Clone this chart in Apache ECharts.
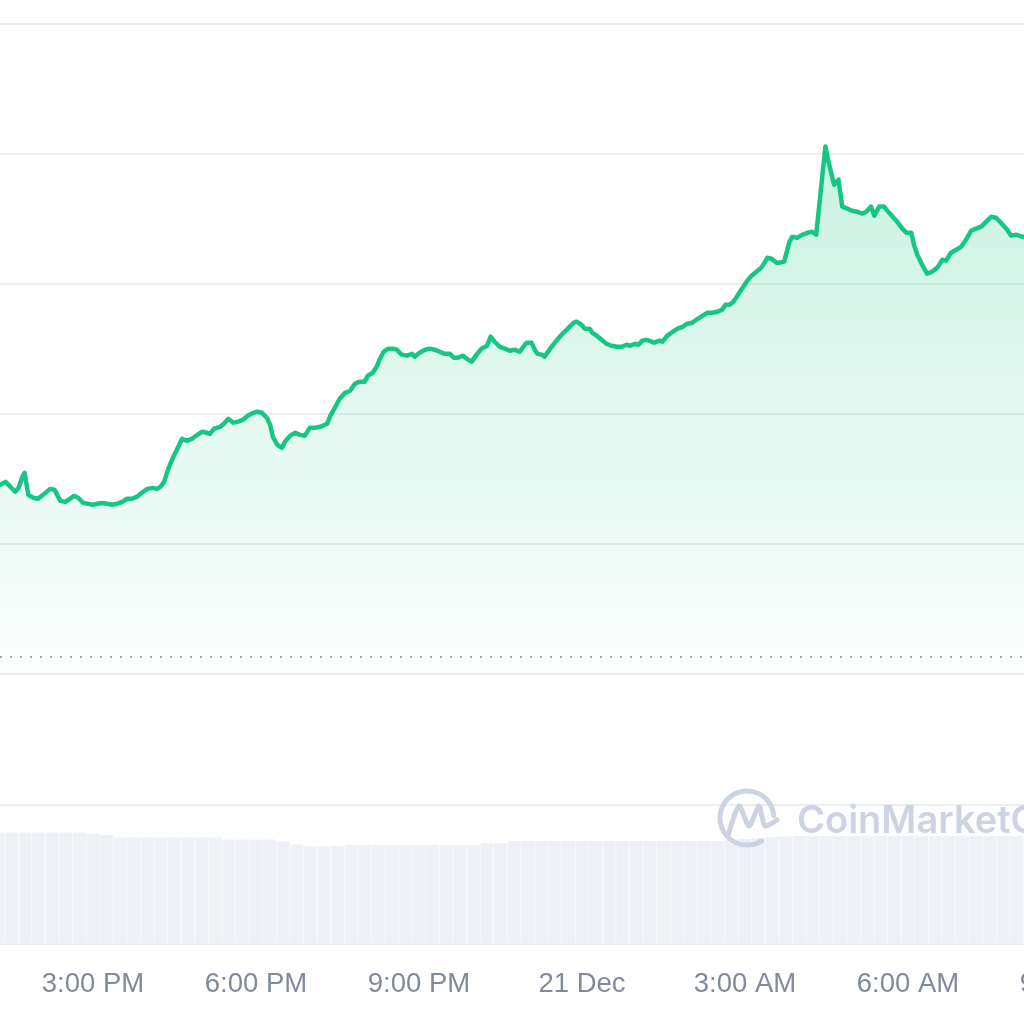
<!DOCTYPE html>
<html>
<head>
<meta charset="utf-8">
<title>Price chart</title>
<script src="https://cdn.jsdelivr.net/npm/echarts@6/dist/echarts.min.js"></script>
<style>
    html, body { margin: 0; padding: 0; background: #fff; }
    #chart { width: 1024px; height: 1024px; }
</style>
</head>
<body>
<div id="chart"></div>
<script>
// hours relative to 21 Dec 00:00
const times = [
    -10.80, -10.71, -10.61, -10.58, -10.52, -10.43, -10.37, -10.30, -10.26, -10.19,
    -10.10, -10.01, -9.92, -9.79, -9.71, -9.60, -9.51, -9.42, -9.35, -9.27,
    -9.18, -9.09, -9.00, -8.92, -8.83, -8.74, -8.65, -8.55, -8.46, -8.37,
    -8.28, -8.19, -8.10, -8.00, -7.91, -7.82, -7.76, -7.69, -7.62, -7.53,
    -7.43, -7.36, -7.27, -7.18, -7.08, -6.99, -6.90, -6.85, -6.77, -6.66,
    -6.59, -6.51, -6.42, -6.33, -6.24, -6.15, -6.05, -5.98, -5.89, -5.80,
    -5.74, -5.69, -5.61, -5.52, -5.47, -5.37, -5.28, -5.19, -5.10, -5.01,
    -4.92, -4.82, -4.69, -4.64, -4.55, -4.46, -4.36, -4.27, -4.18, -4.09,
    -4.00, -3.94, -3.85, -3.78, -3.72, -3.65, -3.57, -3.48, -3.41, -3.32,
    -3.22, -3.13, -3.08, -2.99, -2.89, -2.80, -2.71, -2.62, -2.53, -2.43,
    -2.36, -2.29, -2.19, -2.12, -2.03, -1.94, -1.85, -1.75, -1.68, -1.61,
    -1.51, -1.42, -1.33, -1.24, -1.15, -1.09, -1.02, -0.93, -0.87, -0.82,
    -0.74, -0.69, -0.60, -0.50, -0.41, -0.32, -0.23, -0.15, -0.10, -0.01,
    0.05, 0.14, 0.19, 0.27, 0.36, 0.45, 0.54, 0.64, 0.73, 0.82,
    0.89, 0.97, 1.04, 1.11, 1.19, 1.28, 1.33, 1.43, 1.48, 1.57,
    1.67, 1.76, 1.85, 1.94, 2.03, 2.13, 2.22, 2.31, 2.40, 2.49,
    2.58, 2.64, 2.71, 2.77, 2.84, 2.93, 3.03, 3.12, 3.21, 3.30,
    3.36, 3.41, 3.49, 3.58, 3.63, 3.72, 3.82, 3.87, 3.96, 4.06,
    4.15, 4.24, 4.31, 4.48, 4.55, 4.64, 4.72, 4.79, 4.88, 4.97,
    5.07, 5.16, 5.23, 5.32, 5.38, 5.47, 5.56, 5.65, 5.75, 5.80,
    5.88, 5.97, 6.06, 6.11, 6.17, 6.26, 6.35, 6.44, 6.54, 6.63,
    6.70, 6.79, 6.89, 6.98, 7.07, 7.16, 7.25, 7.35, 7.44, 7.53,
    7.62, 7.71, 7.81, 7.90, 7.99, 8.10, 8.32
];

const prices = [
    1.0718, 1.0726, 1.0737, 1.0741, 1.0718, 1.0699, 1.0714, 1.0757, 1.0772, 1.0687,
    1.0676, 1.0672, 1.0687, 1.0710, 1.0707, 1.0664, 1.0660, 1.0672, 1.0683, 1.0676,
    1.0656, 1.0653, 1.0649, 1.0653, 1.0656, 1.0653, 1.0649, 1.0653, 1.0660, 1.0672,
    1.0672, 1.0680, 1.0695, 1.0710, 1.0714, 1.0710, 1.0718, 1.0737, 1.0784, 1.0830,
    1.0872, 1.0903, 1.0895, 1.0903, 1.0918, 1.0930, 1.0926, 1.0922, 1.0942, 1.0949,
    1.0961, 1.0980, 1.0965, 1.0969, 1.0976, 1.0992, 1.1003, 1.1007, 1.1003, 1.0984,
    1.0957, 1.0911, 1.0880, 1.0868, 1.0891, 1.0915, 1.0926, 1.0918, 1.0915, 1.0945,
    1.0945, 1.0949, 1.0961, 1.0988, 1.1022, 1.1057, 1.1080, 1.1088, 1.1115, 1.1123,
    1.1123, 1.1146, 1.1157, 1.1180, 1.1211, 1.1238, 1.1250, 1.1250, 1.1246, 1.1227,
    1.1223, 1.1230, 1.1219, 1.1234, 1.1246, 1.1250, 1.1246, 1.1238, 1.1230, 1.1230,
    1.1215, 1.1215, 1.1223, 1.1211, 1.1200, 1.1227, 1.1250, 1.1261, 1.1296, 1.1277,
    1.1257, 1.1250, 1.1242, 1.1246, 1.1238, 1.1254, 1.1273, 1.1273, 1.1246, 1.1230,
    1.1227, 1.1219, 1.1246, 1.1273, 1.1296, 1.1315, 1.1334, 1.1350, 1.1354, 1.1342,
    1.1327, 1.1327, 1.1311, 1.1300, 1.1284, 1.1269, 1.1261, 1.1257, 1.1257, 1.1265,
    1.1261, 1.1269, 1.1265, 1.1281, 1.1284, 1.1277, 1.1273, 1.1281, 1.1277, 1.1300,
    1.1315, 1.1327, 1.1334, 1.1346, 1.1350, 1.1365, 1.1377, 1.1388, 1.1388, 1.1392,
    1.1400, 1.1419, 1.1419, 1.1427, 1.1446, 1.1477, 1.1508, 1.1531, 1.1546, 1.1562,
    1.1581, 1.1600, 1.1596, 1.1581, 1.1581, 1.1585, 1.1662, 1.1681, 1.1677, 1.1689,
    1.1696, 1.1700, 1.1689, 1.2028, 1.1958, 1.1881, 1.1901, 1.1797, 1.1789, 1.1781,
    1.1777, 1.1770, 1.1777, 1.1797, 1.1762, 1.1797, 1.1797, 1.1774, 1.1750, 1.1739,
    1.1716, 1.1696, 1.1696, 1.1650, 1.1612, 1.1573, 1.1539, 1.1546, 1.1562, 1.1592,
    1.1589, 1.1619, 1.1631, 1.1643, 1.1670, 1.1704, 1.1712, 1.1720, 1.1739, 1.1758,
    1.1754, 1.1735, 1.1712, 1.1685, 1.1689, 1.1681, 1.1677
];

// 15 minute volume buckets
const volumeTimes = [
    -10.75, -10.5, -10.25, -10, -9.75, -9.5, -9.25, -9, -8.75, -8.5,
    -8.25, -8, -7.75, -7.5, -7.25, -7, -6.75, -6.5, -6.25, -6,
    -5.75, -5.5, -5.25, -5, -4.75, -4.5, -4.25, -4, -3.75, -3.5,
    -3.25, -3, -2.75, -2.5, -2.25, -2, -1.75, -1.5, -1.25, -1,
    -0.75, -0.5, -0.25, 0, 0.25, 0.5, 0.75, 1, 1.25, 1.5,
    1.75, 2, 2.25, 2.5, 2.75, 3, 3.25, 3.5, 3.75, 4,
    4.25, 4.5, 4.75, 5, 5.25, 5.5, 5.75, 6, 6.25, 6.5,
    6.75, 7, 7.25, 7.5, 7.75, 8, 8.25
];

const volumes = [
    79.8, 79.8, 79.8, 79.8, 79.8, 79.8, 79.8, 79.0, 78.0, 76.2,
    76.2, 76.2, 76.2, 76.2, 76.2, 76.2, 76.2, 74.8, 74.8, 74.8,
    74.8, 73.4, 71.2, 69.8, 69.8, 70.3, 70.9, 70.9, 70.9, 70.9,
    70.9, 70.9, 70.9, 70.9, 70.9, 70.9, 71.9, 71.9, 73.7, 73.7,
    73.7, 73.7, 73.7, 73.7, 73.7, 73.7, 73.7, 73.7, 73.7, 73.7,
    73.7, 73.7, 73.7, 73.7, 74.6, 75.2, 75.9, 76.4, 76.9, 77.3,
    77.3, 77.3, 77.3, 77.3, 77.3, 77.3, 77.3, 77.3, 77.3, 77.3,
    77.3, 77.3, 77.3, 77.3, 77.3, 77.3, 77.3
];

// price 24h ago (dotted reference line)
const openPrice = 1.0064;

// tick labels every 3 hours from -12 to +12
const tickLabels = ['12:00 PM', '3:00 PM', '6:00 PM', '9:00 PM', '21 Dec', '3:00 AM', '6:00 AM', '9:00 AM', '12:00 PM'];

const chart = echarts.init(document.getElementById('chart'), null, { renderer: 'canvas' });

const gridLine = { show: true, lineStyle: { color: '#ECEFF2', width: 2 } };

const option = {
    backgroundColor: '#ffffff',
    animation: false,
    grid: [
        { left: -70, right: -210, top: 24, bottom: 350.7, containLabel: false, outerBoundsMode: 'none' },
        { left: -70, right: -210, top: 804.3, bottom: 80, containLabel: false, outerBoundsMode: 'none' }
    ],
    xAxis: [
        {
            type: 'value', gridIndex: 0, min: -12, max: 12, interval: 3,
            axisLine: { show: false }, axisTick: { show: false },
            axisLabel: { show: false }, splitLine: { show: false }
        },
        {
            type: 'value', gridIndex: 1, min: -12, max: 12, interval: 3,
            axisLine: { show: false }, axisTick: { show: false },
            splitLine: { show: false },
            axisLabel: {
                color: '#808A9D',
                fontSize: 27.5,
                fontFamily: 'Liberation Sans, Arial, sans-serif',
                margin: 26,
                hideOverlap: false,
                formatter: v => tickLabels[Math.round((v + 12) / 3)]
            }
        }
    ],
    yAxis: [
        {
            type: 'value', gridIndex: 0, min: 1.00, max: 1.25, interval: 0.05,
            axisLine: { show: false }, axisTick: { show: false },
            axisLabel: { show: false }, splitLine: gridLine
        },
        {
            type: 'value', gridIndex: 1, min: 0, max: 100, interval: 100,
            axisLine: { show: false }, axisTick: { show: false },
            axisLabel: { show: false }, splitLine: gridLine
        }
    ],
    series: [
        {
            name: 'Volume',
            type: 'bar',
            xAxisIndex: 1,
            yAxisIndex: 1,
            barWidth: 13,
            silent: true,
            itemStyle: { color: '#EDF0F4' },
            data: volumeTimes.map((t, i) => [t, volumes[i]])
        },
        {
            name: 'Price',
            type: 'line',
            xAxisIndex: 0,
            yAxisIndex: 0,
            symbol: 'none',
            lineStyle: { color: '#16C784', width: 4.5, join: 'round', cap: 'round' },
            areaStyle: {
                origin: 'start',
                color: new echarts.graphic.LinearGradient(0, 0, 0, 1, [
                    { offset: 0, color: 'rgba(22,199,132,0.33)' },
                    { offset: 1, color: 'rgba(22,199,132,0.02)' }
                ])
            },
            markLine: {
                silent: true,
                symbol: 'none',
                precision: 4,
                label: { show: false },
                lineStyle: { color: '#A1A9BA', width: 2, type: [2, 8] },
                data: [{ yAxis: openPrice }]
            },
            data: times.map((t, i) => [t, prices[i]])
        }
    ],
    graphic: [
        {
            type: 'arc',
            z: 100,
            shape: { cx: 747, cy: 818, r: 27, startAngle: Math.PI * 0.32, endAngle: Math.PI * 1.97, clockwise: true },
            style: { stroke: '#CDD4E1', lineWidth: 5, fill: null, lineCap: 'round' }
        },
        {
            type: 'polyline',
            z: 100,
            shape: { points: [[728, 836], [739, 806], [749, 826], [759, 806], [765, 826], [777, 820]], smooth: 0.25 },
            style: { stroke: '#CDD4E1', lineWidth: 5, fill: null, lineCap: 'round', lineJoin: 'round' }
        },
        {
            type: 'text',
            z: 100,
            x: 797,
            y: 822,
            style: {
                text: 'CoinMarketCap',
                font: '600 38px Inter, sans-serif',
                fill: '#CDD4E1',
                verticalAlign: 'middle'
            }
        }
    ]
};

chart.setOption(option);
</script>
</body>
</html>
